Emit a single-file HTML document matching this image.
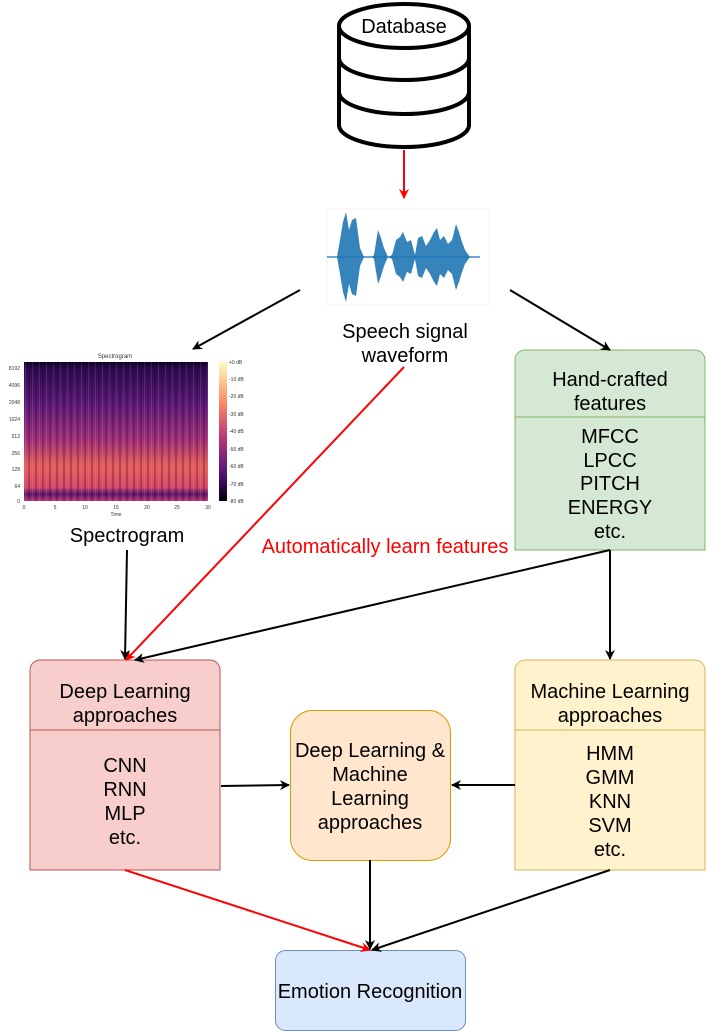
<!DOCTYPE html>
<html><head><meta charset="utf-8"><style>
body{margin:0;background:#fff;}
svg{display:block;font-family:"Liberation Sans",sans-serif;}
</style></head><body>
<svg width="706" height="1031" viewBox="0 0 706 1031" xmlns="http://www.w3.org/2000/svg">
<defs>
<marker id="ab" markerWidth="10" markerHeight="10" refX="9" refY="5" orient="auto" markerUnits="userSpaceOnUse"><path d="M0,0 L10,5 L0,10 L3,5 Z" fill="#000"/></marker>
<marker id="ar" markerWidth="10" markerHeight="10" refX="9" refY="5" orient="auto" markerUnits="userSpaceOnUse"><path d="M0,0 L10,5 L0,10 L3,5 Z" fill="#f00"/></marker>
<linearGradient id="sg" x1="0" y1="0" x2="0" y2="1">
<stop offset="0" stop-color="#0a0020"/><stop offset="0.04" stop-color="#2a0a50"/>
<stop offset="0.3" stop-color="#5a1a78"/><stop offset="0.55" stop-color="#a0307a"/>
<stop offset="0.75" stop-color="#e8605a"/><stop offset="0.9" stop-color="#d84a6a"/>
<stop offset="0.95" stop-color="#5a1a70"/><stop offset="1" stop-color="#c03a70"/>
</linearGradient>
<linearGradient id="cb" x1="0" y1="0" x2="0" y2="1">
<stop offset="0" stop-color="#fcfdbf"/><stop offset="0.3" stop-color="#fb8761"/>
<stop offset="0.55" stop-color="#b73779"/><stop offset="0.8" stop-color="#51127c"/><stop offset="1" stop-color="#000004"/>
</linearGradient>
<pattern id="st" width="7" height="140" patternUnits="userSpaceOnUse"><rect x="0" y="0" width="2" height="140" fill="#200030" opacity="0.25"/><rect x="4" y="0" width="1" height="140" fill="#ffb070" opacity="0.15"/></pattern>
</defs>

<!-- Database -->
<g fill="#fff" stroke="#000" stroke-width="4">
<path d="M339,26 L339,125 A65,22 0 0 0 469,125 L469,26"/>
<ellipse cx="404" cy="26" rx="65" ry="22"/>
<path d="M339,58 A65,22 0 0 0 469,58" fill="none"/>
<path d="M339,92 A65,22 0 0 0 469,92" fill="none"/>
</g>
<text x="404" y="33" font-size="20" text-anchor="middle">Database</text>

<!-- waveform -->
<rect x="327" y="209" width="162" height="96" fill="#fff" stroke="#f0f0f0" stroke-width="1"/>
<line x1="327" y1="257" x2="480" y2="257" stroke="#3a88c8" stroke-width="1.5"/>
<path fill="#1f77b4" d="M337,257 L340,240 L343,222 L346,212 L349,230 L352,220 L356,218 L360,248 L364,257 L372,257 L374,255 L378,230 L381,238 L384,248 L388,257 L392,255 L396,240 L400,237 L403,232 L407,242 L411,240 L415,255 L418,238 L422,236 L426,246 L430,240 L434,232 L437,228 L440,240 L444,236 L448,244 L452,240 L456,224 L459,232 L462,242 L465,250 L470,257 L465,264 L462,272 L459,282 L456,290 L452,274 L448,270 L444,278 L440,274 L437,286 L434,282 L430,274 L426,268 L422,278 L418,276 L415,259 L411,274 L407,272 L403,282 L400,277 L396,274 L392,259 L388,257 L384,266 L381,276 L378,284 L374,259 L372,257 L364,257 L360,266 L356,296 L352,294 L349,284 L346,302 L343,292 L340,274 Z" opacity="0.9"/>

<!-- spectrogram -->
<text x="115" y="358" font-size="6" text-anchor="middle" fill="#333">Spectrogram</text>
<rect x="24" y="362" width="184" height="139" fill="url(#sg)"/>
<rect x="24" y="362" width="184" height="139" fill="url(#st)"/>
<rect x="219" y="362" width="8" height="139" fill="url(#cb)"/>
<g font-size="5" fill="#333" text-anchor="end">
<text x="20" y="370">8192</text><text x="20" y="387">4096</text><text x="20" y="404">2048</text><text x="20" y="421">1024</text><text x="20" y="438">512</text><text x="20" y="455">256</text><text x="20" y="471">128</text><text x="20" y="488">64</text><text x="20" y="503">0</text>
</g>
<g font-size="5" fill="#333">
<text x="229" y="364">+0 dB</text><text x="229" y="381">-10 dB</text><text x="229" y="398">-20 dB</text><text x="229" y="416">-30 dB</text><text x="229" y="433">-40 dB</text><text x="229" y="451">-50 dB</text><text x="229" y="468">-60 dB</text><text x="229" y="486">-70 dB</text><text x="229" y="503">-80 dB</text>
</g>
<g font-size="5" fill="#333" text-anchor="middle">
<text x="24" y="509">0</text><text x="55" y="509">5</text><text x="85" y="509">10</text><text x="116" y="509">15</text><text x="147" y="509">20</text><text x="177" y="509">25</text><text x="208" y="509">30</text>
<text x="116" y="516">Time</text>
</g>

<!-- labels -->
<text x="405" y="338" font-size="20" text-anchor="middle">Speech signal</text>
<text x="405" y="362" font-size="20" text-anchor="middle">waveform</text>
<text x="127" y="542" font-size="20" text-anchor="middle">Spectrogram</text>
<text x="385" y="553" font-size="20" text-anchor="middle" fill="#f00">Automatically learn features</text>

<!-- Hand-crafted -->
<path d="M525,350 H695 A10,10 0 0 1 705,360 V550 H515 V360 A10,10 0 0 1 525,350 Z" fill="#d5e8d4" stroke="#82b366"/>
<line x1="515" y1="417" x2="705" y2="417" stroke="#82b366"/>
<g font-size="20" text-anchor="middle">
<text x="610" y="386">Hand-crafted</text><text x="610" y="410">features</text>
<text x="610" y="443">MFCC</text><text x="610" y="467">LPCC</text><text x="610" y="490">PITCH</text><text x="610" y="514">ENERGY</text><text x="610" y="538">etc.</text>
</g>

<!-- Deep Learning -->
<path d="M40,660 H210 A10,10 0 0 1 220,670 V870 H30 V670 A10,10 0 0 1 40,660 Z" fill="#f8cecc" stroke="#b85450"/>
<line x1="30" y1="730" x2="220" y2="730" stroke="#b85450"/>
<g font-size="20" text-anchor="middle">
<text x="125" y="698">Deep Learning</text><text x="125" y="722">approaches</text>
<text x="125" y="772">CNN</text><text x="125" y="796">RNN</text><text x="125" y="820">MLP</text><text x="125" y="844">etc.</text>
</g>

<!-- Machine Learning -->
<path d="M525,660 H695 A10,10 0 0 1 705,670 V870 H515 V670 A10,10 0 0 1 525,660 Z" fill="#fff2cc" stroke="#d6b656"/>
<line x1="515" y1="730" x2="705" y2="730" stroke="#d6b656"/>
<g font-size="20" text-anchor="middle">
<text x="610" y="698">Machine Learning</text><text x="610" y="722">approaches</text>
<text x="610" y="760">HMM</text><text x="610" y="784">GMM</text><text x="610" y="808">KNN</text><text x="610" y="832">SVM</text><text x="610" y="856">etc.</text>
</g>

<!-- Hybrid -->
<rect x="290.5" y="710.5" width="160" height="150" rx="22" fill="#ffe6cc" stroke="#d79b00"/>
<g font-size="20" text-anchor="middle">
<text x="370" y="757">Deep Learning &amp;</text><text x="370" y="781">Machine</text><text x="370" y="805">Learning</text><text x="370" y="829">approaches</text>
</g>

<!-- Emotion -->
<rect x="275.5" y="950.5" width="190" height="80" rx="10" fill="#dae8fc" stroke="#6c8ebf"/>
<text x="370" y="998" font-size="20" text-anchor="middle">Emotion Recognition</text>

<!-- connectors -->
<g stroke-width="2" fill="none">
<line x1="404" y1="150" x2="404" y2="198" stroke="#f00" marker-end="url(#ar)"/>
<line x1="300" y1="290" x2="193" y2="349" stroke="#000" marker-end="url(#ab)"/>
<line x1="510" y1="290" x2="610" y2="350" stroke="#000" marker-end="url(#ab)"/>
<line x1="404" y1="367" x2="126" y2="660" stroke="#f00" marker-end="url(#ar)"/>
<line x1="127" y1="550" x2="125" y2="659" stroke="#000" marker-end="url(#ab)"/>
<line x1="610" y1="550" x2="135" y2="660" stroke="#000" marker-end="url(#ab)"/>
<line x1="610" y1="550" x2="610" y2="659" stroke="#000" marker-end="url(#ab)"/>
<line x1="221" y1="786" x2="289" y2="785" stroke="#000" marker-end="url(#ab)"/>
<line x1="515" y1="785" x2="452" y2="785" stroke="#000" marker-end="url(#ab)"/>
<line x1="125" y1="870" x2="370" y2="950" stroke="#f00" marker-end="url(#ar)"/>
<line x1="370" y1="860" x2="370" y2="949" stroke="#000" marker-end="url(#ab)"/>
<line x1="610" y1="870" x2="372" y2="950" stroke="#000" marker-end="url(#ab)"/>
</g>
</svg>
</body></html>
